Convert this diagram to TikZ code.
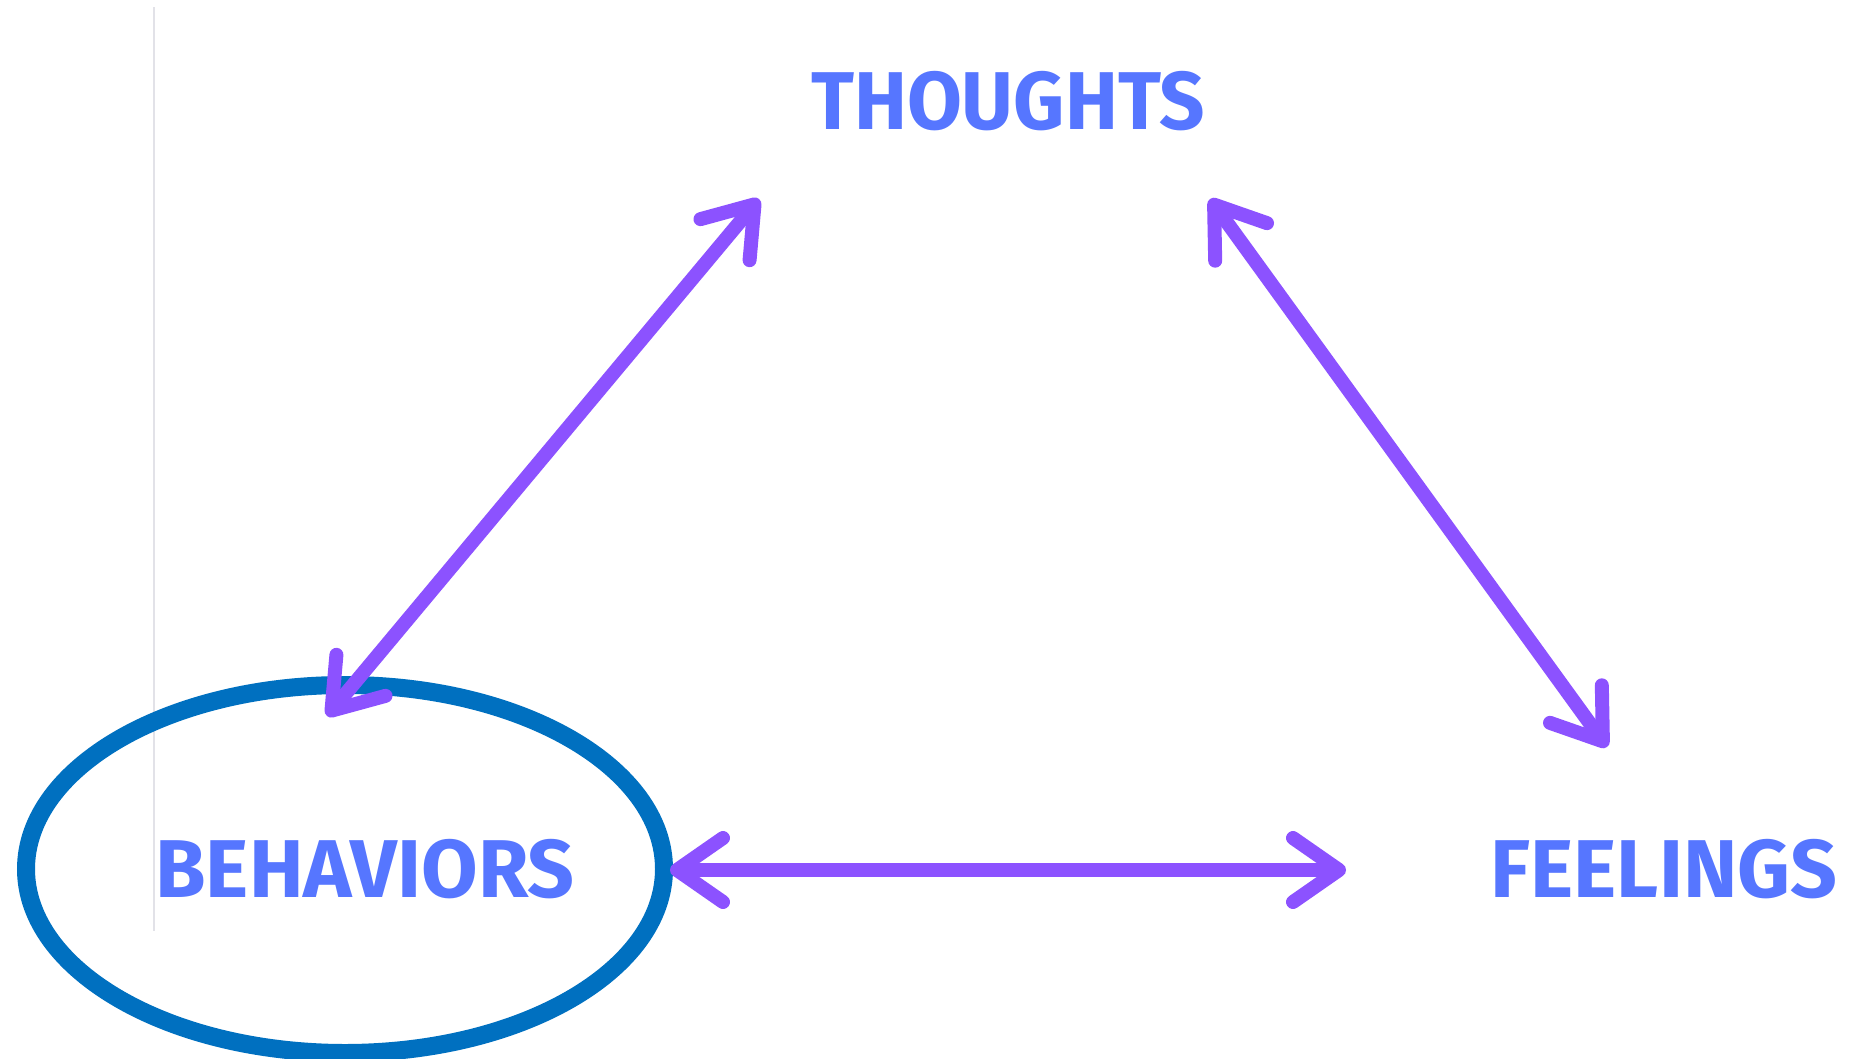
\documentclass[tikz,border=0pt]{standalone}
\usepackage{fontspec}
\setmainfont{Fira Sans}
\usetikzlibrary{arrows.meta}
\definecolor{txtblue}{HTML}{5676FF}
\definecolor{arrowpurple}{HTML}{8C52FF}
\definecolor{ringblue}{HTML}{0070C0}
\definecolor{rulegray}{HTML}{E2E2E8}
\begin{document}
\begin{tikzpicture}[x=1pt,y=-1pt,
  wordlabel/.style={font=\fontsize{82}{90}\selectfont\bfseries, text=txtblue, inner sep=0pt, anchor=center},
  link/.style={arrowpurple, line width=14pt, line cap=round,
    {Straight Barb[length=46pt,width=64pt,round]}-{Straight Barb[length=46pt,width=64pt,round]}}]
\useasboundingbox (0,0) rectangle (1849,1059);
% thin gray rule
\coordinate (ruletop) at (154,7);
\coordinate (rulebot) at (154,931);
\draw[rulegray, line width=2.5pt] (ruletop) -- (rulebot);
% labels
\node[wordlabel, xscale=0.97] (thoughts) at (1008,101) {THOUGHTS};
\node[wordlabel] (behaviors) at (365,869) {BEHAVIORS};
\node[wordlabel] (feelings) at (1664,869) {FEELINGS};
% ellipse round behaviors
\draw[ringblue, line width=18pt] (345,869) ellipse [x radius=319, y radius=184];
% arrow end points
\coordinate (bt1) at (327,716);
\coordinate (bt2) at (759,199);
\coordinate (tf1) at (1210,199);
\coordinate (tf2) at (1607,747);
\coordinate (bf1) at (670,870);
\coordinate (bf2) at (1346,870);
\draw[link] (bt1) -- (bt2);
\draw[link] (tf1) -- (tf2);
\draw[link] (bf1) -- (bf2);
\end{tikzpicture}
\end{document}
